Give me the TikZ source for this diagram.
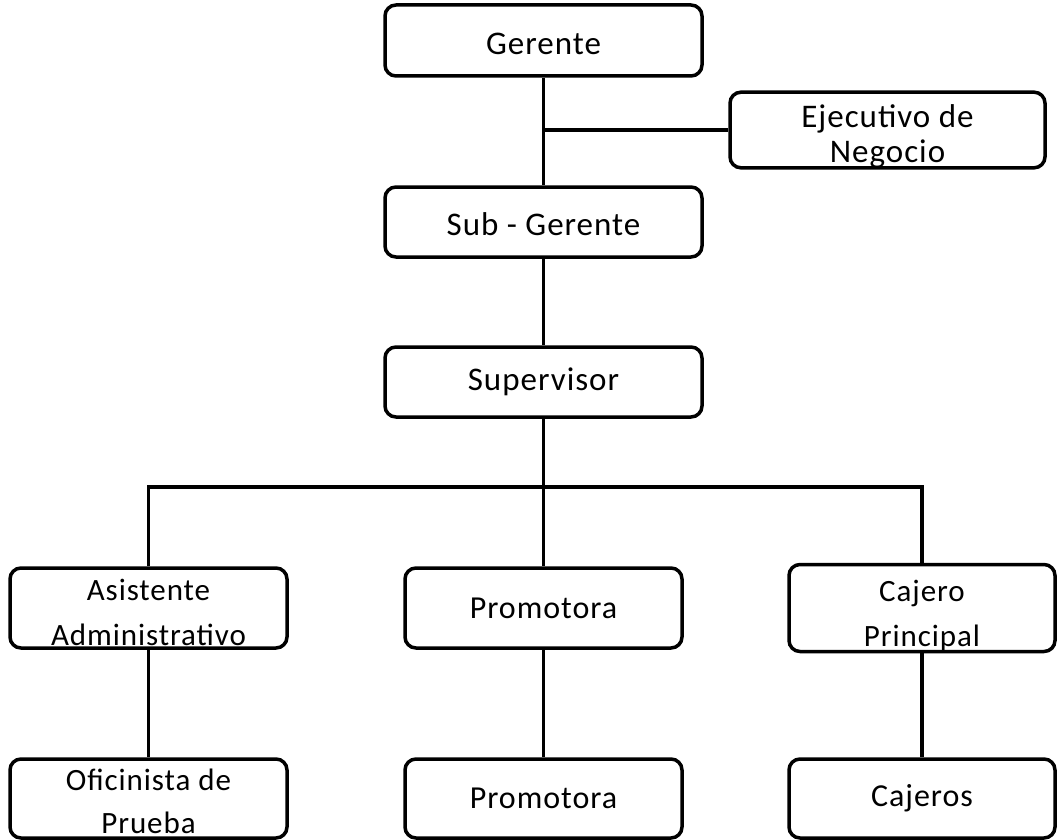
\documentclass[tikz,border=0pt]{standalone}
\usepackage{fontspec}
\setmainfont{Carlito}[LetterSpace=3]
\tikzset{
  orgbox/.style={draw=black, line width=3.5pt, rounded corners=11pt, inner sep=0pt,
    align=center, font=\fontsize{33}{35}\selectfont},
  link/.style={draw=black, line width=3.5pt}
}
\begin{document}
\begin{tikzpicture}[x=1pt,y=-1pt]
\useasboundingbox (0,0) rectangle (1057,840);
% boxes
\node[orgbox, minimum width=317pt, minimum height=71pt] (ger) at (543.5,40.5) {\rule{0pt}{28pt}Gerente};
\node[orgbox, minimum width=315pt, minimum height=70pt] (eje) at (887.5,130) {\rule{0pt}{35pt}Ejecutivo de\\Negocio};
\node[orgbox, minimum width=317pt, minimum height=70pt] (sub) at (543.5,222) {\rule{0pt}{28pt}Sub - Gerente};
\node[orgbox, minimum width=317pt, minimum height=70pt] (sup) at (543.5,382) {Supervisor};
\node[orgbox, minimum width=277pt, minimum height=80pt, font=\fontsize{31}{45}\selectfont] (asi) at (148.5,608) {\rule{0pt}{30pt}Asistente\\Administrativo};
\node[orgbox, minimum width=277pt, minimum height=80pt, font=\fontsize{32}{35}\selectfont] (pro) at (543.5,608) {Promotora};
\node[orgbox, minimum width=266pt, minimum height=80pt, font=\fontsize{31}{45}\selectfont] (caj) at (922,608) {\rule{0pt}{37pt}Cajero\\Principal};
\node[orgbox, minimum width=277pt, minimum height=79pt, font=\fontsize{31}{43}\selectfont] (ofi) at (148.5,798.5) {\rule{0pt}{28pt}Oficinista de\\Prueba};
\node[orgbox, minimum width=277pt, minimum height=79pt, font=\fontsize{32}{35}\selectfont] (pro2) at (543.5,798.5) {Promotora};
\node[orgbox, minimum width=266pt, minimum height=79pt, font=\fontsize{32}{35}\selectfont] (cjs) at (922,798.5) {Cajeros};
% connectors
\coordinate (j1) at (ger.south |- eje.west);
\coordinate (busL) at (148.5,487);
\coordinate (busR) at (922,487);
\draw[link] (ger.south) -- (sub.north);
\draw[link] (j1) -- (eje.west);
\draw[link] (sub.south) -- (sup.north);
\draw[link] (sup.south) -- (pro.north);
\draw[link] (asi.north) -- (busL) -- (busR) -- (caj.north);
\draw[link] (asi.south) -- (ofi.north);
\draw[link] (pro.south) -- (pro2.north);
\draw[link] (caj.south) -- (cjs.north);
\end{tikzpicture}
\end{document}
